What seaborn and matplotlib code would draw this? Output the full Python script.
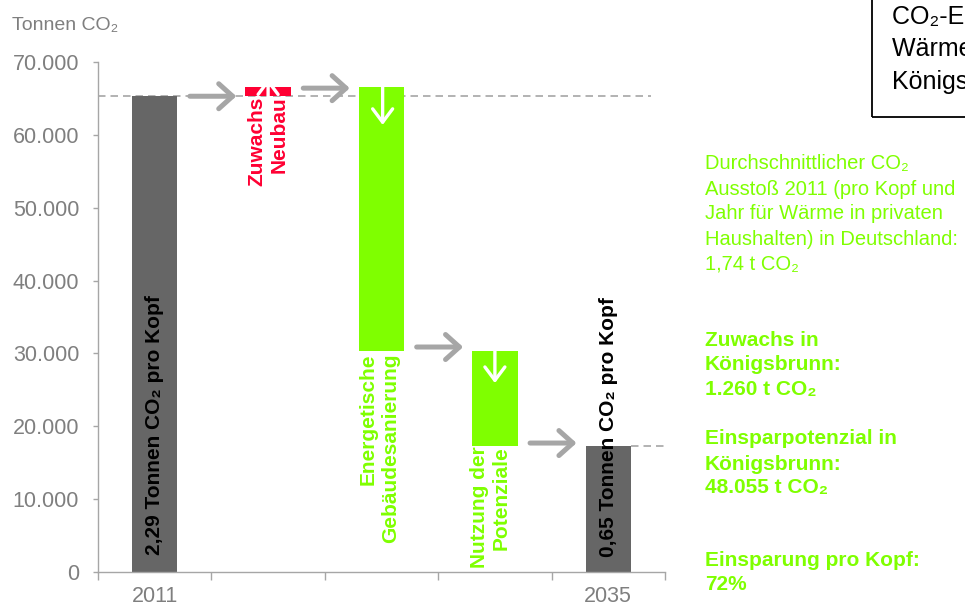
import numpy as np
import pandas as pd
import matplotlib
matplotlib.use("Agg")
import matplotlib.pyplot as plt
import seaborn as sns
from matplotlib.ticker import FuncFormatter
from matplotlib.patches import Rectangle

# ---------------- data ----------------
categories = ["2011", "Zuwachs Neubau", "Energetische Gebäudesanierung",
              "Nutzung der Potenziale", "2035"]
emission_2011 = 65300          # t CO2
zuwachs_neubau = 1260          # t CO2
sanierung = -36230             # t CO2
nutzung_potenziale = -13000    # t CO2
x_labels = ["2011", "", "", "", "2035"]
bar_texts = ["2,29 Tonnen CO\u2082 pro Kopf", "Zuwachs\nNeubau",
             "Energetische\nGebäudesanierung", "Nutzung der\nPotenziale",
             "0,65 Tonnen CO\u2082 pro Kopf"]
y_ticks = [0, 10000, 20000, 30000, 40000, 50000, 60000, 70000]

# waterfall levels
level0 = emission_2011
level1 = level0 + zuwachs_neubau
level2 = level1 + sanierung
level3 = level2 + nutzung_potenziale
bottoms = [0, level0, level2, level3, 0]
tops = [level0, level1, level1, level2, level3]

GRAY_BAR = "#666666"
RED = "#FF0033"
GREEN = "#7FFF00"
ARROW = "#A6A6A6"
AXIS = "#A6A6A6"
TICKTXT = "#7F7F7F"
colors = [GRAY_BAR, RED, GREEN, GREEN, GRAY_BAR]

sns.set_theme(style="white")
plt.rcParams["font.family"] = ["Liberation Sans", "DejaVu Sans"]

W, H = 965, 606
fig = plt.figure(figsize=(W / 100, H / 100), dpi=100)
ax = fig.add_axes([98 / W, 1 - 572 / H, 567 / W, 510 / H])

df = pd.DataFrame({"cat": categories, "top": tops})
sns.barplot(data=df, x="cat", y="top", hue="cat", palette=colors,
            legend=False, width=0.4, saturation=1, linewidth=0,
            ax=ax, zorder=2)
for patch, b, t in zip(ax.patches, bottoms, tops):
    patch.set_y(b)
    patch.set_height(t - b)

ax.set_xlim(-0.5, 4.5)
ax.set_ylim(0, 70000)
ax.set_xlabel("")
ax.set_ylabel("")

# axes styling
for s in ["top", "right"]:
    ax.spines[s].set_visible(False)
for s in ["left", "bottom"]:
    ax.spines[s].set_color(AXIS)
    ax.spines[s].set_linewidth(1.0)

ax.set_yticks(y_ticks)
ax.yaxis.set_major_formatter(FuncFormatter(lambda v, p: f"{int(v):,}".replace(",", ".")))
ax.tick_params(axis="y", which="major", direction="out", length=3.5, width=1,
               color=AXIS, labelcolor=TICKTXT, labelsize=15.5, pad=10, left=True)

ax.set_xticks(np.arange(-0.5, 4.6, 1.0))
ax.set_xticklabels([""] * 6)
ax.set_xticks(np.arange(len(categories)), minor=True)
ax.set_xticklabels(x_labels, minor=True)
ax.tick_params(axis="x", which="major", direction="out", length=6, width=1,
               color=AXIS, bottom=True)
ax.tick_params(axis="x", which="minor", length=0, labelcolor=TICKTXT,
               labelsize=15.5, pad=10, bottom=True)

# dashed reference lines
ax.plot([-0.5, 4.38], [level0, level0], ls=(0, (4.5, 3)), color=ARROW,
        lw=1.2, zorder=1)
ax.plot([4.2, 4.5], [level3, level3], ls=(0, (4.5, 3)), color=ARROW,
        lw=1.2, zorder=1)

# grey flow arrows between bars
gray_style = "->,head_length=0.5,head_width=0.45"
flow = [(0, level0), (1, level1 - 150), (2, level2 + 550), (3, level3 + 370)]
for i, yv in flow:
    ax.annotate("", xy=(i + 0.72, yv), xytext=(i + 0.31, yv),
                arrowprops=dict(arrowstyle=gray_style, color=ARROW, lw=3.6,
                                mutation_scale=20, shrinkA=0, shrinkB=0),
                zorder=3)

# texts inside / below bars
ax.text(0, 2300, bar_texts[0], rotation=90, ha="center", va="bottom",
        fontsize=15, fontweight="bold", color="black", zorder=4)
ax.text(4, 2050, bar_texts[4], rotation=90, ha="center", va="bottom",
        fontsize=15, fontweight="bold", color="black", zorder=4)
ax.text(1, level0, bar_texts[1], rotation=90, ha="center", va="top",
        multialignment="right", fontsize=15, fontweight="bold", color=RED,
        zorder=4)
ax.text(1.98, level2 - 300, bar_texts[2], rotation=90, ha="center", va="top",
        multialignment="right", fontsize=15, fontweight="bold", color=GREEN,
        zorder=4)
ax.text(2.96, level3 - 100, bar_texts[3], rotation=90, ha="center", va="top",
        multialignment="right", fontsize=15, fontweight="bold", color=GREEN,
        zorder=4)

# white arrows inside bars
white_style = "->,head_length=0.6,head_width=0.45"
ax.annotate("", xy=(2.01, level1 - 5200), xytext=(2.01, level1),
            arrowprops=dict(arrowstyle=white_style, color="white", lw=2.4,
                            mutation_scale=16, shrinkA=0, shrinkB=0), zorder=5)
ax.annotate("", xy=(3.0, level2 - 4400), xytext=(3.0, level2),
            arrowprops=dict(arrowstyle=white_style, color="white", lw=2.4,
                            mutation_scale=16, shrinkA=0, shrinkB=0), zorder=5)
ax.annotate("", xy=(1.0, level1 + 1200), xytext=(1.0, level0 - 500),
            arrowprops=dict(arrowstyle=white_style, color="white", lw=2.4,
                            mutation_scale=16, shrinkA=0, shrinkB=0), zorder=5)

# axis title
fig.text(12 / W, 1 - 25 / H, "Tonnen CO\u2082", ha="left", va="center",
         fontsize=14, color=TICKTXT)

# right-hand notes
def px(x, y):
    return x / W, 1 - y / H

note_regular = [("Durchschnittlicher CO\u2082", 164), ("Ausstoß 2011 (pro Kopf und", 189),
                ("Jahr für Wärme in privaten", 214), ("Haushalten) in Deutschland:", 239),
                ("1,74 t CO\u2082", 264)]
for t, yy in note_regular:
    fig.text(*px(705, yy), t, ha="left", va="center", fontsize=14.5, color=GREEN)

note_bold = [("Zuwachs in", 341), ("Königsbrunn:", 365), ("1.260 t CO\u2082", 389),
             ("Einsparpotenzial in", 439), ("Königsbrunn:", 464), ("48.055 t CO\u2082", 488),
             ("Einsparung pro Kopf:", 560), ("72%", 584)]
for t, yy in note_bold:
    fig.text(*px(705, yy), t, ha="left", va="center", fontsize=15,
             fontweight="bold", color=GREEN)

# top-right boxed title (runs off the right edge, as in the reference)
fig.patches.append(Rectangle(px(872, 117), 0.3, 0.3, transform=fig.transFigure,
                             fill=False, edgecolor="black", linewidth=1.3))
for t, yy in [("CO\u2082-Emissionen für", 17), ("Wärme in privaten", 49),
              ("Königsbrunn", 82)]:
    fig.text(*px(892, yy), t, ha="left", va="center", fontsize=18, color="black")

fig.savefig("out.png", dpi=100)
